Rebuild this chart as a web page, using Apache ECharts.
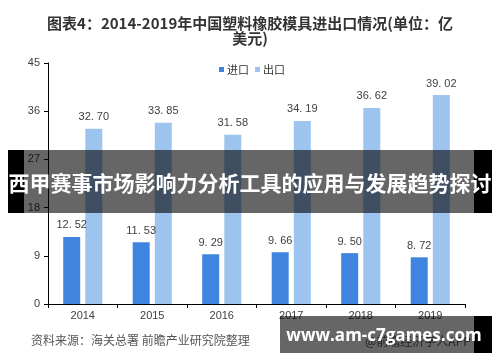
<!DOCTYPE html>
<html><head><meta charset="utf-8">
<script src="https://cdn.jsdelivr.net/npm/echarts@6/dist/echarts.min.js"></script>
<style>html,body{margin:0;padding:0;background:#fff;}#c{width:500px;height:362px;}</style>
</head><body><div id="c"></div>
<script>
const categories = ['2014','2015','2016','2017','2018','2019'];
const importValues = [12.52, 11.53, 9.29, 9.66, 9.50, 8.72];
const exportValues = [32.70, 33.85, 31.58, 34.19, 36.62, 39.02];
const yTicks = {min: 0, max: 45, interval: 9};
const seriesNames = ['进口', '出口'];
const titleText = '图表4：2014-2019年中国塑料橡胶模具进出口情况(单位：亿\n美元)';
const sourceText = '资料来源：海关总署 前瞻产业研究院整理';
const appText = '@前瞻经济学人APP';
const bannerText = '西甲赛事市场影响力分析工具的应用与发展趋势探讨';
const urlText = 'www.am-c7games.com';

const cjk = '"Noto Sans CJK SC", "Liberation Sans", sans-serif';
const fmt = v => v.toFixed(2).replace('.', '. ');
const chart = echarts.init(document.getElementById('c'), null, {renderer: 'canvas'});
chart.setOption({
  animation: false,
  backgroundColor: '#fff',
  title: {
    text: titleText, left: 'center', top: 11,
    textStyle: {fontFamily: cjk, fontSize: 15, fontWeight: 'bold', color: '#333', lineHeight: 15}
  },
  legend: {
    data: seriesNames, left: 214, top: 59, itemWidth: 5, itemHeight: 5, itemGap: 6,
    icon: 'rect', textStyle: {fontFamily: cjk, fontSize: 11, color: '#333', padding: [0,0,0,-2]}
  },
  grid: {left: 48, right: 35, top: 63, bottom: 58},
  xAxis: {
    type: 'category', data: categories,
    axisLine: {lineStyle: {color: '#000', width: 1}},
    axisTick: {show: true, length: 4, lineStyle: {color: '#000'}},
    axisLabel: {fontFamily: '"Liberation Sans", sans-serif', fontSize: 11, color: '#404040', margin: 6}
  },
  yAxis: {
    type: 'value', min: yTicks.min, max: yTicks.max, interval: yTicks.interval,
    splitLine: {show: false},
    axisLine: {show: true, lineStyle: {color: '#000', width: 1}},
    axisTick: {show: true, length: 4, lineStyle: {color: '#000'}},
    axisLabel: {fontFamily: '"Liberation Sans", sans-serif', fontSize: 11, color: '#404040', margin: 8}
  },
  series: [
    {name: seriesNames[0], type: 'bar', data: importValues, barWidth: 17, barGap: '30%',
     itemStyle: {color: '#3f85e0'},
     label: {show: true, position: 'top', distance: 6, formatter: p => fmt(p.value),
       fontFamily: '"Liberation Sans", sans-serif', fontSize: 11, color: '#404040'}},
    {name: seriesNames[1], type: 'bar', data: exportValues, barWidth: 17, barGap: '30%',
     itemStyle: {color: '#9dc3ef'},
     label: {show: true, position: 'top', distance: 6, formatter: p => fmt(p.value),
       fontFamily: '"Liberation Sans", sans-serif', fontSize: 11, color: '#404040'}}
  ],
  graphic: [
    {type: 'text', left: 31, top: 334, z: 50,
     style: {text: sourceText, font: '12px ' + cjk, fill: '#555'}},
    {type: 'text', left: 365, top: 335, z: 50,
     style: {text: appText, font: '12px ' + cjk, fill: '#555'}},
    {type: 'rect', shape: {x: 8, y: 150, width: 16, height: 63}, style: {fill: '#000'}, z: 100},
    {type: 'rect', shape: {x: 24, y: 150, width: 450, height: 63}, style: {fill: 'rgba(0,0,0,0.6)'}, z: 100},
    {type: 'rect', shape: {x: 474, y: 150, width: 18, height: 63}, style: {fill: '#000'}, z: 100},
    {type: 'text', x: 250, y: 183, z: 101,
     style: {text: bannerText, font: 'bold 21px ' + cjk, fill: '#fff', align: 'center', verticalAlign: 'middle'}},
    {type: 'rect', shape: {x: 280, y: 316, width: 194, height: 37}, style: {fill: 'rgba(0,0,0,0.6)'}, z: 100},
    {type: 'rect', shape: {x: 474, y: 316, width: 18, height: 37}, style: {fill: '#000'}, z: 100},
    {type: 'text', x: 384, y: 336, z: 101,
     style: {text: urlText, font: 'bold 17px "Open Sans", "DejaVu Sans", sans-serif', fill: '#fff', align: 'center', verticalAlign: 'middle'}}
  ]
});
</script></body></html>
